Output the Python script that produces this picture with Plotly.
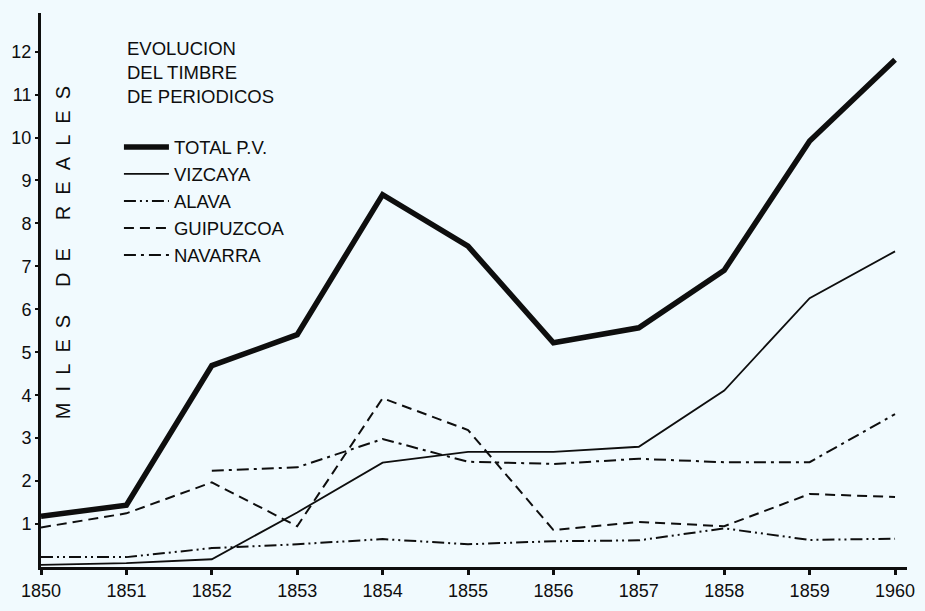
import plotly.graph_objects as go

# ---- data ----
year_labels = ["1850", "1851", "1852", "1853", "1854", "1855", "1856", "1857", "1858", "1859", "1960"]
x_pos = list(range(len(year_labels)))

total_pv = [1.18, 1.44, 4.69, 5.41, 8.67, 7.47, 5.22, 5.57, 6.91, 9.92, 11.81]
vizcaya = [0.05, 0.09, 0.18, 1.27, 2.43, 2.68, 2.68, 2.80, 4.11, 6.26, 7.35]
alava = [0.23, 0.23, 0.44, 0.53, 0.65, 0.53, 0.60, 0.62, 0.90, 0.63, 0.66]
guipuzcoa = [0.92, 1.25, 1.97, 0.95, 3.93, 3.19, 0.86, 1.05, 0.95, 1.70, 1.63]
navarra = [None, None, 2.24, 2.32, 2.98, 2.45, 2.40, 2.52, 2.44, 2.44, 3.56]

y_ticks = list(range(1, 13))
title_lines = ["EVOLUCION", "DEL TIMBRE", "DE PERIODICOS"]
y_title = "MILES DE REALES"

INK = "#0e0e0e"
BG = "#F1FAFE"
FONT = "Liberation Sans, Arial, sans-serif"

fig = go.Figure()
series = [
    ("TOTAL P.V.", total_pv, 5.5, "solid"),
    ("VIZCAYA", vizcaya, 1.8, "solid"),
    ("ALAVA", alava, 2, "12px,4px,2px,4px,2px,4px"),
    ("GUIPUZCOA", guipuzcoa, 2, "10px,6px"),
    ("NAVARRA", navarra, 2, "12px,5px,3px,5px"),
]
for name, vals, w, dash in series:
    fig.add_trace(go.Scatter(
        x=x_pos, y=vals, name=name, mode="lines",
        line=dict(color=INK, width=w, dash=dash),
        connectgaps=False, cliponaxis=False,
    ))

# title lines
title_y = [0.9355, 0.8925, 0.849]
annotations = []
for txt, yy in zip(title_lines, title_y):
    annotations.append(dict(
        text=txt, xref="paper", yref="paper", x=0.097, y=yy,
        xanchor="left", yanchor="middle", showarrow=False,
        font=dict(family=FONT, size=18.5, color=INK),
    ))

# spaced vertical axis title
spaced = "\u00a0\u00a0\u00a0\u00a0\u00a0".join(
    "\u00a0\u00a0".join(list(word)) for word in y_title.split(" ")
)
annotations.append(dict(
    text=spaced, xref="paper", yref="paper", x=0.0247, y=0.567,
    xanchor="center", yanchor="middle", textangle=-90, showarrow=False,
    font=dict(family=FONT, size=20, color=INK),
))

fig.update_layout(
    width=925, height=611,
    margin=dict(l=41, r=10, t=13, b=40),
    paper_bgcolor=BG, plot_bgcolor=BG,
    font=dict(family=FONT, size=18, color=INK),
    showlegend=True,
    legend=dict(
        x=0.090, y=0.7917, xanchor="left", yanchor="top",
        bgcolor="rgba(0,0,0,0)", borderwidth=0,
        font=dict(family=FONT, size=18.5, color=INK),
        itemwidth=45, tracegroupgap=0,
    ),
    annotations=annotations,
    xaxis=dict(
        range=[0, 10.14], tickvals=x_pos, ticktext=year_labels,
        showgrid=False, zeroline=False,
        showline=True, linecolor=INK, linewidth=3,
        ticks="outside", ticklen=5, tickwidth=3, tickcolor=INK,
        tickfont=dict(family=FONT, size=18, color=INK),
    ),
    yaxis=dict(
        range=[0, 12.9], tickvals=y_ticks,
        showgrid=False, zeroline=False,
        showline=True, linecolor=INK, linewidth=3,
        ticks="outside", ticklen=3, tickwidth=2, tickcolor=INK,
        tickfont=dict(family=FONT, size=18, color=INK),
    ),
)

fig.write_html(
    "out.html",
    config={"displayModeBar": False},
    post_script="document.body.style.margin='0';document.body.style.background='#F1FAFE';",
)
